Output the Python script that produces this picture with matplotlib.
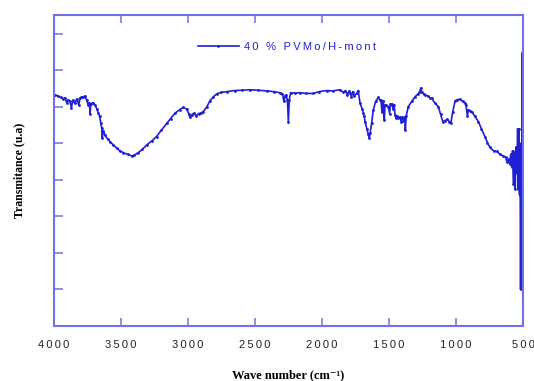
import matplotlib
matplotlib.use("Agg")
import matplotlib.pyplot as plt

# FTIR spectrum (wavenumber cm-1, transmittance a.u.)
wavenumber = [
    4000, 3993, 3970, 3950, 3931, 3920, 3905, 3895, 3881, 3870, 3860, 3845,
    3830, 3815, 3805, 3793, 3780, 3770, 3756, 3745, 3735, 3731, 3725, 3710,
    3694, 3680, 3669, 3660, 3650, 3644, 3640, 3632, 3619, 3600, 3582, 3560,
    3532, 3510, 3483, 3450, 3420, 3400, 3371, 3340, 3308, 3270, 3234, 3200,
    3159, 3130, 3097, 3060, 3035, 3010, 2995, 2985, 2970, 2955, 2940, 2920,
    2900, 2886, 2860, 2836, 2810, 2786, 2750, 2711, 2650, 2600, 2537, 2480,
    2413, 2360, 2313, 2295, 2284, 2275, 2269, 2258, 2251, 2244, 2234, 2200,
    2164, 2120, 2065, 2020, 1965, 1920, 1866, 1840, 1825, 1810, 1800, 1791,
    1780, 1770, 1760, 1741, 1730, 1716, 1700, 1692, 1685, 1679, 1665, 1655,
    1647, 1640, 1630, 1617, 1600, 1580, 1570, 1560, 1552, 1548, 1542, 1535,
    1530, 1520, 1505, 1495, 1490, 1480, 1470, 1462, 1455, 1448, 1440, 1430,
    1418, 1410, 1400, 1392, 1381, 1378, 1372, 1356, 1330, 1306, 1285, 1270,
    1263, 1255, 1240, 1231, 1210, 1195, 1181, 1160, 1132, 1115, 1099, 1085,
    1065, 1050, 1039, 1025, 1007, 990, 970, 950, 933, 925, 915, 908,
    895, 883, 860, 833, 810, 784, 765, 746, 720, 696, 670, 647,
    630, 620, 610, 600, 592, 585, 578, 572, 565, 558, 552, 545,
    540, 535, 530, 526, 522, 518, 514, 510, 506, 503, 501,
]
transmittance = [
    6.33, 6.33, 6.30, 6.26, 6.22, 6.25, 6.12, 6.20, 6.15, 5.98, 6.18, 6.10,
    6.22, 6.05, 6.25, 6.28, 6.26, 6.30, 6.19, 6.05, 6.12, 5.82, 6.08, 6.12,
    6.05, 5.95, 5.83, 5.75, 5.55, 5.42, 5.15, 5.35, 5.23, 5.12, 5.05, 4.97,
    4.87, 4.80, 4.75, 4.70, 4.66, 4.68, 4.75, 4.84, 4.96, 5.07, 5.19, 5.36,
    5.55, 5.68, 5.83, 5.93, 5.99, 5.94, 5.82, 5.72, 5.79, 5.83, 5.76, 5.82,
    5.84, 5.87, 6.00, 6.17, 6.28, 6.36, 6.40, 6.42, 6.45, 6.46, 6.47, 6.46,
    6.44, 6.42, 6.39, 6.36, 6.15, 6.30, 6.33, 6.20, 5.60, 6.20, 6.39, 6.38,
    6.39, 6.37, 6.37, 6.42, 6.45, 6.44, 6.47, 6.40, 6.45, 6.32, 6.43, 6.39,
    6.28, 6.42, 6.30, 6.37, 6.45, 6.10, 5.95, 5.83, 5.75, 5.60, 5.40, 5.25,
    5.14, 5.30, 5.55, 5.92, 6.15, 6.26, 6.20, 6.18, 5.85, 6.15, 6.15, 5.64,
    6.05, 6.05, 6.01, 5.82, 6.08, 6.08, 5.95, 6.06, 5.78, 5.70, 5.75, 5.70,
    5.73, 5.60, 5.73, 5.62, 5.73, 5.37, 5.75, 6.01, 6.15, 6.28, 6.35, 6.42,
    6.52, 6.40, 6.35, 6.33, 6.30, 6.25, 6.24, 6.12, 6.01, 5.80, 5.60, 5.62,
    5.66, 5.60, 5.55, 5.85, 6.17, 6.20, 6.21, 6.15, 6.10, 6.05, 5.75, 5.92,
    5.90, 5.87, 5.75, 5.60, 5.40, 5.19, 5.02, 4.89, 4.80, 4.78, 4.70, 4.66,
    4.62, 4.50, 4.57, 4.45, 4.70, 4.35, 4.80, 3.90, 4.75, 3.75, 4.90, 4.20,
    5.40, 3.75, 5.40, 3.60, 4.60, 1.00, 5.00, 1.10, 7.48, 2.00, 7.40,
]

x_ticks = [4000, 3500, 3000, 2500, 2000, 1500, 1000, 500]
x_tick_labels = ["4000", "3500", "3000", "2500", "2000", "1500", "1000", "500"]
y_ticks = [0, 1, 2, 3, 4, 5, 6, 7, 8]
series_label = "40 % PVMo/H-mont"

LINE = "#1f1fd6"
FRAME = "#6f6ff0"
SANS = ["Liberation Sans", "DejaVu Sans"]
SERIF = ["Liberation Serif", "DejaVu Serif"]


def spaced(s):
    # the original software draws labels with wide letter spacing
    return "\u2009".join(s)


fig = plt.figure(figsize=(5.34, 3.81), dpi=100)
ax = fig.add_axes([0.1011, 0.1444, 0.8783, 0.8163])

ax.plot(wavenumber, transmittance, color=LINE, lw=1.2, marker=".", ms=2,
        label=spaced(series_label))

ax.set_xlim(4000, 500)
ax.set_ylim(0, 8.52)
ax.set_xticks(x_ticks)
ax.set_xticklabels([spaced(t) for t in x_tick_labels], family=SANS, fontsize=8)
ax.set_yticks(y_ticks)
ax.set_yticklabels([])

ax.tick_params(axis="x", direction="in", length=5.5, width=1.1, color=FRAME,
               top=True, pad=10, labelcolor="#222222")
ax.tick_params(axis="y", direction="in", length=6.6, width=1.1, color=FRAME,
               right=False)
for sp in ax.spines.values():
    sp.set_color(FRAME)
    sp.set_linewidth(1.5)

ax.set_xlabel("Wave number (cm\u207b\u00b9)", family=SERIF,
              fontweight="bold", fontsize=9, labelpad=14)
ax.set_ylabel("Transmitance (u.a)", family=SERIF, fontweight="bold",
              fontsize=8.5, labelpad=17)

ax.legend(loc="upper left", bbox_to_anchor=(0.285, 0.945), frameon=False,
          handlelength=3.7, handletextpad=0.5, numpoints=1, labelcolor=LINE,
          prop={"family": SANS, "size": 8})

plt.savefig("out.png", dpi=100)
